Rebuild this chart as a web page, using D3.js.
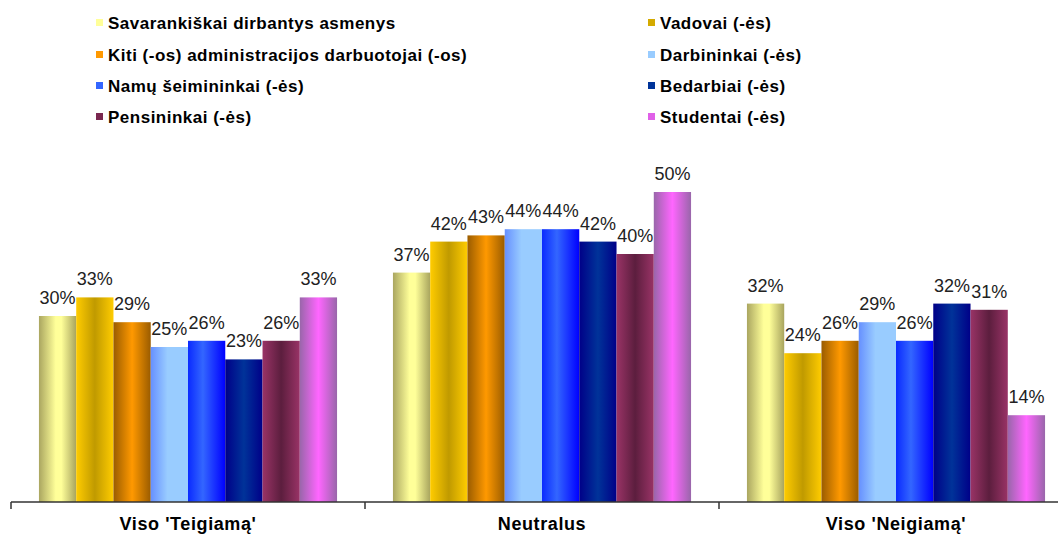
<!DOCTYPE html>
<html lang="lt">
<head>
<meta charset="UTF-8">
<title>Vertinimas pagal socialinę padėtį</title>
<script src="https://d3js.org/d3.v7.min.js"></script>
<style>
  body { margin: 0; background: #fff; }
  svg text { font-family: "Liberation Sans", Arial, sans-serif; }
</style>
</head>
<body>
<script>
const categories = ["Viso 'Teigiamą'", "Neutralus", "Viso 'Neigiamą'"];
const series = [
  "Savarankiškai dirbantys asmenys",
  "Vadovai (-ės)",
  "Kiti (-os) administracijos darbuotojai (-os)",
  "Darbininkai (-ės)",
  "Namų šeimininkai (-ės)",
  "Bedarbiai (-ės)",
  "Pensininkai (-ės)",
  "Studentai (-ės)"
];
const teigiama = [30, 33, 29, 25, 26, 23, 26, 33];
const neutralus = [37, 42, 43, 44, 44, 42, 40, 50];
const neigiama = [32, 24, 26, 29, 26, 32, 31, 14];
const values = [teigiama, neutralus, neigiama];

// marker colour + gradient stops (edge / middle / edge)
const swatch = ["#ffff99", "#d4aa00", "#ff9900", "#99ccff", "#3366ff", "#003399", "#7a2850", "#e060e8"];
const grads = [
  [[0, "#aaa660"], [0.45, "#ffff99"], [0.6, "#ffff99"], [1, "#a8a45e"]],
  [[0, "#ffcc00"], [0.5, "#c09a00"], [1, "#ffcc00"]],
  [[0, "#9a5c00"], [0.5, "#ff9900"], [1, "#9a5c00"]],
  [[0, "#6690ff"], [0.45, "#99ccff"], [1, "#99ccff"]],
  [[0, "#0a2aff"], [0.4, "#3366ff"], [1, "#0000ff"]],
  [[0, "#000088"], [0.5, "#003399"], [1, "#000088"]],
  [[0, "#993366"], [0.5, "#5c1e3e"], [1, "#993366"]],
  [[0, "#9966aa"], [0.5, "#ff66ff"], [1, "#9966aa"]]
];

const width = 1058, height = 536;
const svg = d3.select("body").append("svg")
  .attr("width", width)
  .attr("height", height);

const defs = svg.append("defs");
grads.forEach((stops, i) => {
  const g = defs.append("linearGradient")
    .attr("id", "g" + i)
    .attr("x1", "0%").attr("x2", "100%").attr("y1", "0%").attr("y2", "0%");
  stops.forEach(s => g.append("stop").attr("offset", s[0]).attr("stop-color", s[1]));
});

const x0 = d3.scaleBand().domain(categories).range([11, 1073]);
const x1 = d3.scaleBand().domain(series).range([0, x0.bandwidth()]).paddingOuter(0.75);
const y = d3.scaleLinear().domain([0, 50]).range([502, 192]);

// bars
const groups = svg.append("g").selectAll("g")
  .data(categories)
  .join("g")
  .attr("transform", d => `translate(${x0(d)},0)`);

groups.selectAll("rect")
  .data((c, ci) => series.map((s, si) => ({ s, si, v: values[ci][si] })))
  .join("rect")
  .attr("x", d => x1(d.s))
  .attr("y", d => y(d.v))
  .attr("width", x1.bandwidth())
  .attr("height", d => y(0) - y(d.v))
  .attr("fill", d => `url(#g${d.si})`);

groups.selectAll("text")
  .data((c, ci) => series.map((s, si) => ({ s, si, v: values[ci][si] })))
  .join("text")
  .attr("x", d => x1(d.s) + x1.bandwidth() / 2)
  .attr("y", d => y(d.v) - 12)
  .attr("text-anchor", "middle")
  .attr("font-size", 18)
  .attr("fill", "#222")
  .text(d => d.v + "%");

// axis
svg.append("line")
  .attr("x1", 11).attr("x2", 1058)
  .attr("y1", y(0)).attr("y2", y(0))
  .attr("stroke", "#333").attr("stroke-width", 1.5);

svg.append("g").selectAll("line")
  .data(categories)
  .join("line")
  .attr("x1", d => x0(d)).attr("x2", d => x0(d))
  .attr("y1", y(0)).attr("y2", y(0) + 7)
  .attr("stroke", "#333").attr("stroke-width", 1.5);

svg.append("g").selectAll("text")
  .data(categories)
  .join("text")
  .attr("x", d => x0(d) + x0.bandwidth() / 2)
  .attr("y", 530)
  .attr("text-anchor", "middle")
  .attr("font-size", 18)
  .attr("font-weight", "bold")
  .attr("letter-spacing", 0.6)
  .attr("fill", "#000")
  .text(d => d);

// legend, two columns
const legend = svg.append("g").selectAll("g")
  .data(series)
  .join("g")
  .attr("transform", (d, i) => `translate(${i % 2 ? 648 : 96},${[23, 55, 86, 117][Math.floor(i / 2)]})`);

legend.append("rect")
  .attr("x", 0).attr("y", -4)
  .attr("width", 7).attr("height", 7)
  .attr("fill", (d, i) => swatch[i]);

legend.append("text")
  .attr("x", 12)
  .attr("y", 6)
  .attr("font-size", 17)
  .attr("font-weight", "bold")
  .attr("letter-spacing", 0.5)
  .attr("fill", "#000")
  .text(d => d);
</script>
</body>
</html>
